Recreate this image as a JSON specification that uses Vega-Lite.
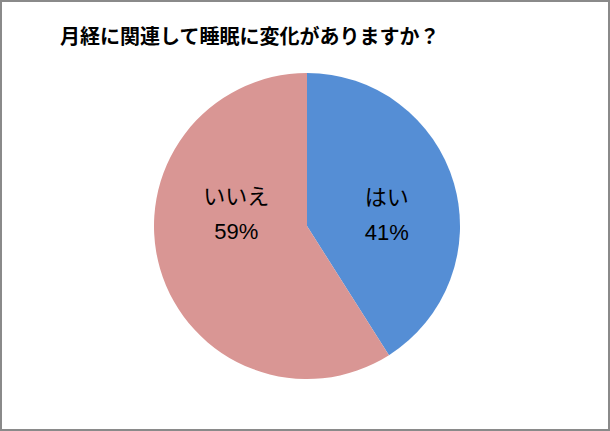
{
  "$schema": "https://vega.github.io/schema/vega-lite/v6.json",
  "width": 610,
  "height": 431,
  "autosize": "none",
  "padding": 0,
  "background": "white",
  "view": {"stroke": "#8a8a8a", "strokeWidth": 4, "fill": "white"},
  "title": {
    "text": "月経に関連して睡眠に変化がありますか？",
    "anchor": "start",
    "frame": "group",
    "orient": "top",
    "offset": -68,
    "dx": 60,
    "fontSize": 20,
    "font": "Noto Sans CJK JP",
    "fontWeight": "bold",
    "color": "black",
    "baseline": "bottom"
  },
  "data": {"values": [
    {"answer": "はい", "percent": 0.41},
    {"answer": "いいえ", "percent": 0.59}
  ]},
  "transform": [
    {"calculate": "datum.answer + '\\n' + format(datum.percent, '.0%')", "as": "label"}
  ],
  "encoding": {
    "theta": {"field": "percent", "type": "quantitative", "stack": true},
    "order": {"field": "percent", "type": "quantitative", "sort": "ascending"}
  },
  "layer": [
    {
      "mark": {"type": "arc", "outerRadius": 153, "x": {"expr": "width/2+2"}, "y": {"expr": "height/2+10.5"}},
      "encoding": {
        "color": {"field": "answer", "type": "nominal", "scale": {"domain": ["はい", "いいえ"], "range": ["#558ED5", "#D99694"]}, "legend": null}
      }
    },
    {
      "mark": {"type": "text", "radius": 80, "x": {"expr": "width/2+2"}, "y": {"expr": "height/2+10.5"}, "dx": 3, "dy": -6, "fontSize": 22, "font": "Liberation Sans, Noto Sans CJK JP", "lineBreak": "\n", "lineHeight": 35, "color": "black"},
      "encoding": {
        "text": {"condition": {"test": "datum.answer === 'はい'", "field": "label"}, "value": ""}
      }
    },
    {
      "mark": {"type": "text", "radius": 80, "x": {"expr": "width/2+2"}, "y": {"expr": "height/2+10.5"}, "dx": 6, "dy": -51, "fontSize": 22, "font": "Liberation Sans, Noto Sans CJK JP", "lineBreak": "\n", "lineHeight": 35, "color": "black"},
      "encoding": {
        "text": {"condition": {"test": "datum.answer === 'いいえ'", "field": "label"}, "value": ""}
      }
    }
  ]
}
